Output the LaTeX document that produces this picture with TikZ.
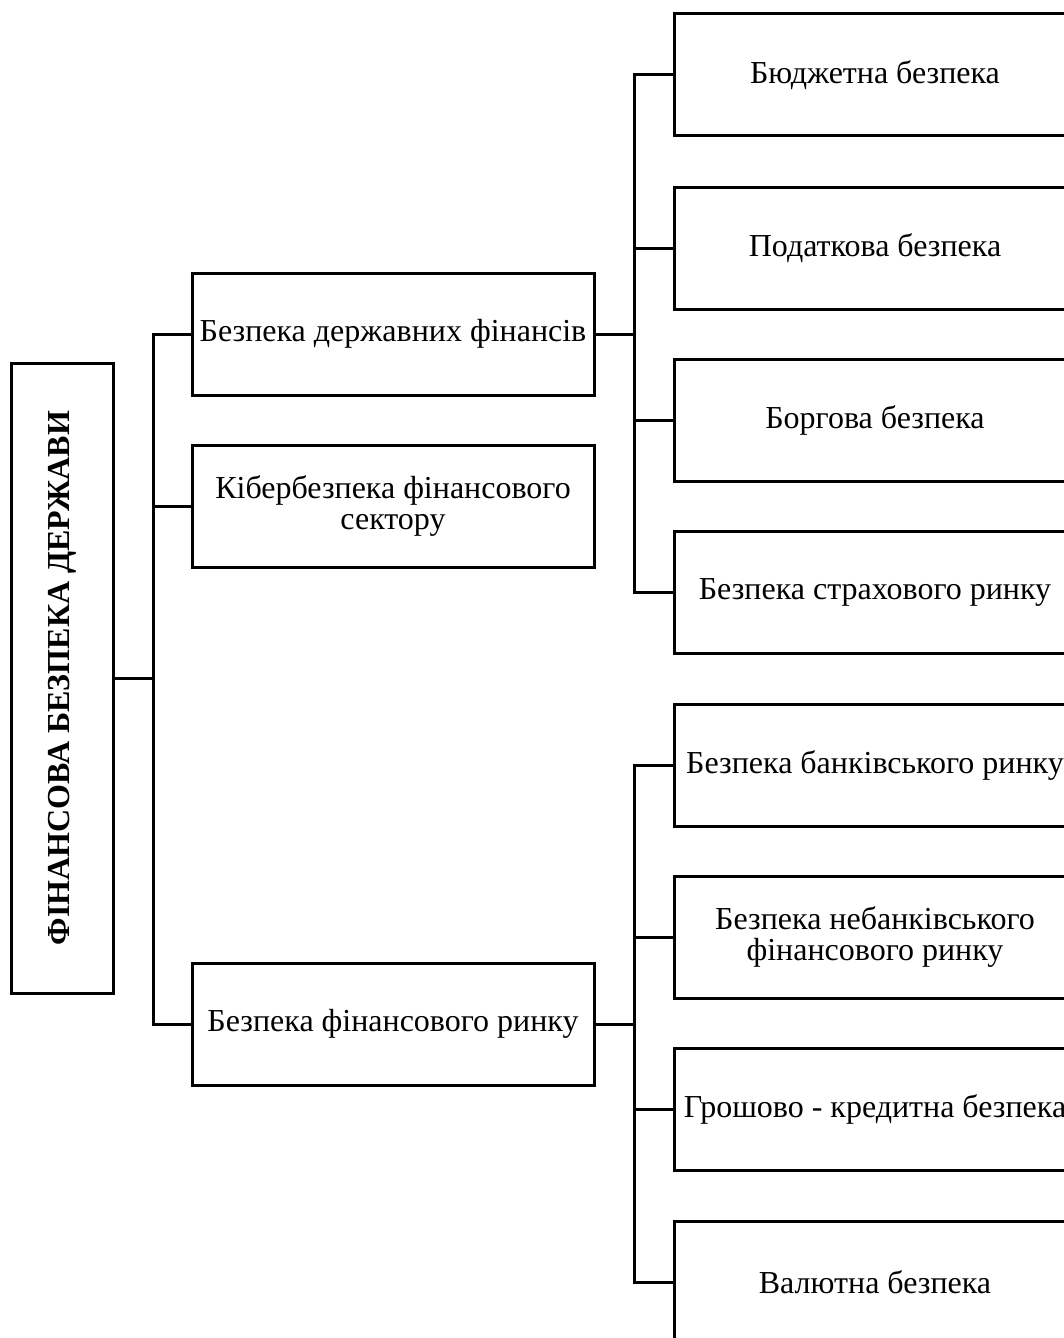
\documentclass[tikz,border=0pt]{standalone}
\usepackage{fontspec}
\setmainfont{Liberation Serif}
\usetikzlibrary{positioning}

\begin{document}
\begin{tikzpicture}[x=0.5pt, y=-0.5pt, line width=1.5pt,
        box/.style={rectangle, draw, minimum width=201pt, minimum height=61pt, inner sep=2pt, align=center, font=\fontsize{16}{15.5}\selectfont},
        rootbox/.style={rectangle, draw, minimum width=51pt, minimum height=315pt, inner sep=0pt, font=\fontsize{16}{16}\selectfont\bfseries}]
        \useasboundingbox (0,0) rectangle (1064,1338);
        \clip (0,0) rectangle (1064,1338);

        % root
        \node (root) [rootbox] at (62,678) {\rotatebox{90}{ФІНАНСОВА БЕЗПЕКА ДЕРЖАВИ}};

        % second level
        \node (public) [box] at (393,334) {Безпека державних фінансів};
        \node (cyber) [box] at (393,506) {Кібербезпека фінансового\\сектору};
        \node (market) [box] at (393,1024) {Безпека фінансового ринку};

        % third level
        \node (budget) [box] at (875,75) {Бюджетна безпека};
        \node (tax) [box] at (875,248) {Податкова безпека};
        \node (debt) [box] at (875,420) {Боргова безпека};
        \node (insur) [box] at (875,592) {Безпека страхового ринку};
        \node (bank) [box] at (875,765) {Безпека банківського ринку};
        \node (nonbank) [box] at (875,937) {Безпека небанківського\\фінансового ринку};
        \node (money) [box] at (875,1109) {Грошово - кредитна безпека};
        \node (currency) [box] at (875,1282) {Валютна безпека};

        \coordinate (j1) at (153,678);
        \coordinate (j2) at (634,334);
        \coordinate (j3) at (634,1024);

        \draw (root.east) -- (j1);
        \foreach \n in {public, cyber, market}
            \draw (j1) |- (\n.west);

        \draw (public.east) -- (j2);
        \foreach \n in {budget, tax, debt, insur}
            \draw (j2) |- (\n.west);

        \draw (market.east) -- (j3);
        \foreach \n in {bank, nonbank, money, currency}
            \draw (j3) |- (\n.west);
    \end{tikzpicture}
\end{document}
